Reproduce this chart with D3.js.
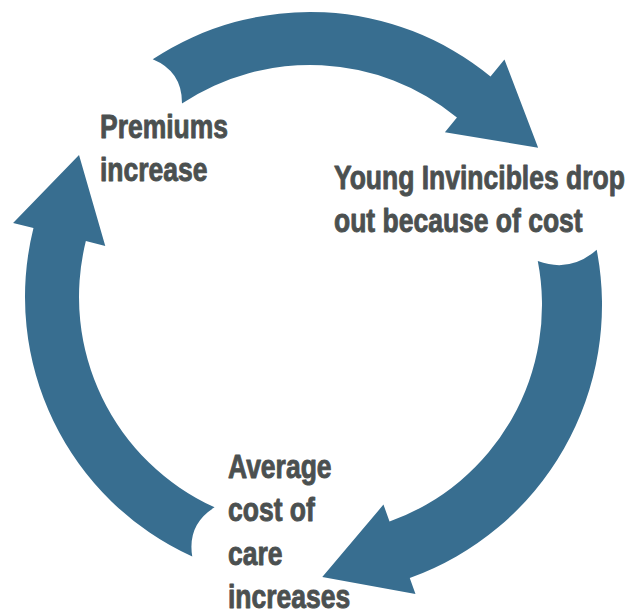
<!DOCTYPE html>
<html>

<head>
    <meta charset='utf-8'>
    <title>Cycle</title>
    <script type='text/javascript' src='https://cdn.jsdelivr.net/npm/d3@7'></script>
    <style>
        body { margin: 0; background: #fff; }
    </style>
</head>

<body>
    <svg width='630' height='614'></svg>
    <script type='text/javascript'>

        // steps of the cycle, each label split in lines
        const stepLines = [
            ['Premiums', 'increase'],
            ['Young Invincibles drop', 'out because of cost'],
            ['Average', 'cost of', 'care', 'increases']
        ]
        // arrows, angles in degrees clockwise from 12 o'clock
        const arrowStart = [-33.5, 79, 204.4]
        const arrowEnd = [39.3, 160.3, 284]

        const svg = d3.select('svg')
        const blue = '#386e90'
        const grey = '#4b5050'

        // ring geometry for each arrow (arrow 2 sits a little lower)
        const ring = [
            { cx: 310, cy: 297, r: 232, R: 285, rb: 213, Rb: 307 },
            { cx: 312, cy: 305, r: 230, R: 290, rb: 212, Rb: 307 },
            { cx: 310, cy: 297, r: 231, R: 285, rb: 211, Rb: 306 }
        ]
        const headLength = 82
        const notchDepth = 9

        // label anchors (left edge, first baseline)
        const labelPos = [
            { x: 100, y: 138 },
            { x: 334, y: 189 },
            { x: 228, y: 478 }
        ]
        const lineHeight = 43.5
        const refWidth = 291 // width of "Young Invincibles drop" in the picture

        const rad = d => d * Math.PI / 180

        function arrowPath(i) {
            const g = ring[i]
            const a0 = rad(arrowStart[i]), a1 = rad(arrowEnd[i])
            const pt = (a, r) => [g.cx + r * Math.sin(a), g.cy - r * Math.cos(a)]
            const p = d3.path()
            const A = pt(a0, g.R), B = pt(a0, g.r)
            p.moveTo(A[0], A[1])
            p.arc(g.cx, g.cy, g.R, a0 - Math.PI / 2, a1 - Math.PI / 2, false)
            const ob = pt(a1, g.Rb), ib = pt(a1, g.rb)
            const mid = pt(a1, (g.Rb + g.rb) / 2)
            const tip = [mid[0] + headLength * Math.cos(a1), mid[1] + headLength * Math.sin(a1)]
            p.lineTo(ob[0], ob[1])
            p.lineTo(tip[0], tip[1])
            p.lineTo(ib[0], ib[1])
            const is = pt(a1, g.r)
            p.lineTo(is[0], is[1])
            p.arc(g.cx, g.cy, g.r, a1 - Math.PI / 2, a0 - Math.PI / 2, true)
            // concave tail
            const m = [(A[0] + B[0]) / 2, (A[1] + B[1]) / 2]
            const c = [m[0] + 2 * notchDepth * Math.cos(a0), m[1] + 2 * notchDepth * Math.sin(a0)]
            p.quadraticCurveTo(c[0], c[1], A[0], A[1])
            p.closePath()
            return p.toString()
        }

        svg.append('g').selectAll('path')
            .data(d3.range(arrowStart.length))
            .enter().append('path')
            .attr('d', d => arrowPath(d))
            .attr('fill', blue)

        const labels = svg.append('g').selectAll('text')
            .data(stepLines)
            .enter().append('text')
            .attr('font-family', "'Liberation Sans', Arial, sans-serif")
            .attr('font-weight', 'bold')
            .attr('font-size', 33)
            .attr('fill', grey)
            .attr('stroke', grey)
            .attr('stroke-width', 0.9)
            .attr('stroke-linejoin', 'round')

        labels.selectAll('tspan')
            .data((d, i) => d.map(t => ({ t: t, i: i })))
            .enter().append('tspan')
            .attr('x', 0)
            .attr('y', (d, j) => j * lineHeight)
            .text(d => d.t)

        // squeeze the font to a condensed width
        const measured = labels.filter((d, i) => i === 1).select('tspan').node().getComputedTextLength()
        const sx = refWidth / measured
        labels.attr('transform', (d, i) => `translate(${labelPos[i].x},${labelPos[i].y}) scale(${sx},1)`)
    </script>
</body>

</html>
